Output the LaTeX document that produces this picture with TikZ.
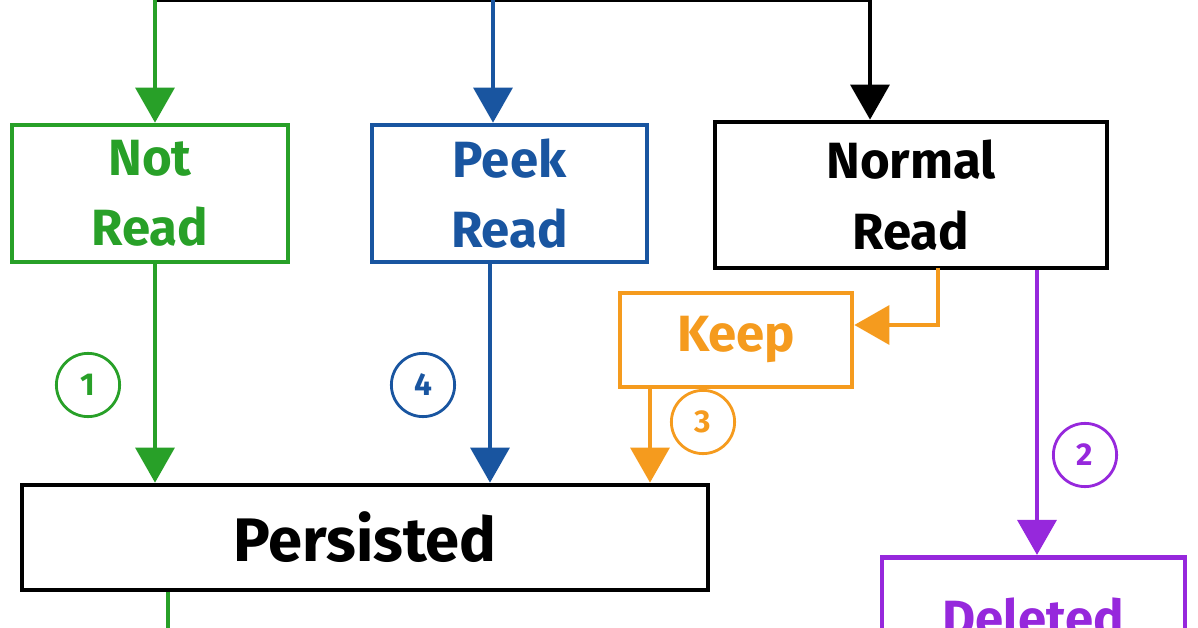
\documentclass[tikz,border=0pt]{standalone}
\usepackage{fontspec}
\setmainfont{Fira Sans}
\usetikzlibrary{arrows.meta}
\definecolor{gr}{RGB}{40,160,40}
\definecolor{bl}{RGB}{25,85,160}
\definecolor{orx}{RGB}{245,155,30}
\definecolor{pu}{RGB}{150,40,220}
\begin{document}
\begin{tikzpicture}[x=0.02cm,y=-0.02cm,
 bx/.style={draw,line width=2.6pt,align=center,font=\fontsize{29}{40}\selectfont\bfseries},
 ln/.style={line width=2.8pt},
 ar/.style={ln,-{Triangle[length=20pt,width=22pt]}},
 num/.style={circle,draw,line width=1.6pt,minimum size=36pt,inner sep=0pt,font=\fontsize{18}{18}\selectfont\bfseries}]
\useasboundingbox (0,0) rectangle (1198,628);
\node[bx,gr,minimum width=276*0.02cm,minimum height=137*0.02cm] (nr) at (150,193.5) {Not\\Read};
\node[bx,bl,minimum width=275*0.02cm,minimum height=137*0.02cm] (pr) at (509.5,193.5) {Peek\\Read};
\node[bx,black,minimum width=392*0.02cm,minimum height=146*0.02cm] (nm) at (911,195) {Normal\\Read};
\node[bx,orx,minimum width=232*0.02cm,minimum height=94*0.02cm] (kp) at (736,340) {Keep};
\node[bx,black,minimum width=686*0.02cm,minimum height=105*0.02cm,font=\fontsize{35}{40}\selectfont\bfseries] (ps) at (365,537.5) {Persisted};
\node[bx,pu,minimum width=303*0.02cm,minimum height=120*0.02cm,anchor=north] (dl) at (1033.5,555) {Deleted};
\coordinate (t1) at (155,0); \coordinate (t3) at (870,0); \coordinate (t2) at (493,0);
\draw[ln] (t1) -- (t3);
\draw[ar,gr] (t1) -- (nr.north -| t1);
\draw[ar,bl] (t2) -- (pr.north -| t2);
\draw[ar,black] (t3) -- (nm.north -| t3);
\draw[ar,gr] (nr.south -| t1) -- (ps.north -| t1);
\draw[ar,bl] (pr.south -| 490,0) -- (ps.north -| 490,0);
\coordinate (oa) at (938,268); \coordinate (ob) at (938,325);
\draw[ar,orx] (oa) -- (ob) -- (kp.east |- ob);
\draw[ar,orx] (kp.south -| 650,0) -- (ps.north -| 650,0);
\draw[ar,pu] (nm.south -| 1037,0) -- (dl.north -| 1037,0);
\coordinate (pb) at (168,628);
\draw[ln,gr] (ps.south -| pb) -- (pb);
\node[num,gr] (c1) at (88,385) {1};
\node[num,bl] (c4) at (423,385) {4};
\node[num,orx] (c3) at (703,422) {3};
\node[num,pu] (c2) at (1085,455) {2};
\end{tikzpicture}
\end{document}
